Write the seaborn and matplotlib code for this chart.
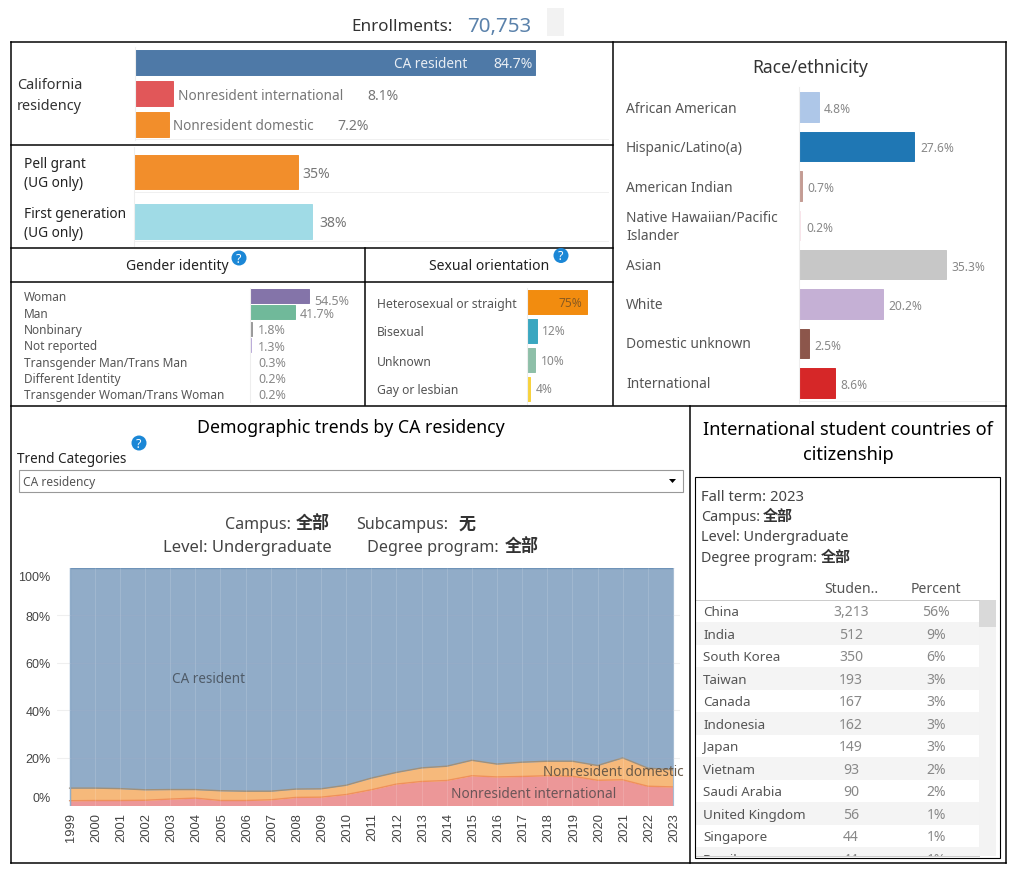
import matplotlib
matplotlib.use("Agg")
import matplotlib.pyplot as plt
from matplotlib.patches import Rectangle, Circle, Polygon
from matplotlib.transforms import ScaledTranslation
import pandas as pd
import seaborn as sns

residency_cats = ["CA resident", "Nonresident international", "Nonresident domestic"]
residency_vals = [84.7, 8.1, 7.2]
support_cats = ["Pell grant", "First generation"]
support_vals = [35, 38]
gender_cats = ["Woman", "Man", "Nonbinary", "Not reported", "Transgender Man/Trans Man",
               "Different Identity", "Transgender Woman/Trans Woman"]
gender_vals = [54.5, 41.7, 1.8, 1.3, 0.3, 0.2, 0.2]
orient_cats = ["Heterosexual or straight", "Bisexual", "Unknown", "Gay or lesbian"]
orient_vals = [75, 12, 10, 4]
race_cats = ["African American", "Hispanic/Latino(a)", "American Indian",
             "Native Hawaiian/Pacific\nIslander", "Asian", "White", "Domestic unknown", "International"]
race_vals = [4.8, 27.6, 0.7, 0.2, 35.3, 20.2, 2.5, 8.6]
years = list(range(1999, 2024))
intl_share = [2.0, 2.1, 2.1, 2.2, 2.7, 3.1, 2.1, 2.1, 2.4, 3.4, 3.5, 4.6, 6.6, 9.0, 10.1,
              10.5, 12.5, 12.0, 12.2, 12.5, 12.3, 10.6, 10.8, 8.1, 7.8]
dom_share = [5.3, 5.2, 5.0, 4.4, 4.0, 3.6, 4.1, 3.9, 3.6, 3.5, 3.5, 3.9, 4.9, 4.9, 5.7,
             6.0, 6.5, 5.4, 6.0, 6.1, 6.3, 6.2, 9.2, 7.6, 7.2]
countries = ["China", "India", "South Korea", "Taiwan", "Canada", "Indonesia", "Japan", "Vietnam",
             "Saudi Arabia", "United Kingdom", "Singapore", "Brazil"]
students = ["3,213", "512", "350", "193", "167", "162", "149", "93", "90", "56", "44", "44"]
percents = ["56%", "9%", "6%", "3%", "3%", "3%", "3%", "2%", "2%", "1%", "1%", "1%"]

sns.set_theme(style="white")
FONT = ["Noto Sans", "Noto Sans CJK SC", "DejaVu Sans"]
plt.rcParams["font.family"] = FONT
W, H = 1010, 870
fig = plt.figure(figsize=(W / 100, H / 100), dpi=100, facecolor="white")


def px_ax(l, t, r, b, **kw):
    a = fig.add_axes([l / W, 1 - b / H, (r - l) / W, (b - t) / H], **kw)
    a.patch.set_alpha(0)
    return a


ov = px_ax(0, 0, W, H, zorder=5)
ov.set_xlim(0, W)
ov.set_ylim(H - 1, -1)
ov.axis("off")


def T(x, y, s, px=14, color="#333333", ha="left", va="center", ax=ov, **kw):
    return ax.text(x, y + 0.6, s, fontsize=px * 0.72, color=color, ha=ha, va=va, **kw)


def L(x0, y0, x1, y1, color="black", lw=1.5, **kw):
    ov.plot([x0, x1], [y0, y1], color=color, lw=lw * 0.72, solid_capstyle="projecting", **kw)


def bars(l, t, r, b, cats, vals, colors, px_per, width):
    a = px_ax(l - 1, t + 1, r - 1, b + 1)
    df = pd.DataFrame({"cat": cats, "val": vals})
    sns.barplot(data=df, y="cat", x="val", hue="cat", palette=dict(zip(cats, colors)),
                legend=False, width=width, ax=a, saturation=1, linewidth=0)
    for p in a.patches:
        p.set_edgecolor(p.get_facecolor())
        p.set_linewidth(0.7)
    a.set_xlim(0, (r - l) / px_per)
    a.set_ylim(len(cats) - 0.5, -0.5)
    a.set_xlabel("")
    a.set_ylabel("")
    a.set_xticks([])
    a.set_yticks([])
    sns.despine(ax=a, top=True, right=True, bottom=True, left=False)
    a.spines["left"].set_color("#eeeeee")
    a.spines["left"].set_linewidth(0.8)
    return a


# Header
T(351, 25, "Enrollments:", 17, "#333333")
T(467, 25.5, "70,753", 20.5, "#5b82ab", weight="bold")
ov.add_patch(Rectangle((547, 8), 17, 28, fc="#f2f2f2", ec="none"))

# Frames
L(11, 42, 1006, 42)
L(11, 863, 1006, 863)
L(11, 42, 11, 863)
L(1006, 42, 1006, 863)
L(613, 42, 613, 405)
L(11, 145, 613, 145)
L(11, 248, 613, 248)
L(11, 282, 613, 282)
L(365, 248, 365, 405)
L(11, 405.5, 1006, 405.5)
L(690, 405.5, 690, 863)
ov.add_patch(Rectangle((695, 477), 305, 381, fc="none", ec="black", lw=0.8, zorder=6))

# Residency
bars(136, 47, 608, 140, residency_cats, residency_vals, ["#4e79a7", "#e15759", "#f28e2b"], 4.723, 0.83)
L(136, 139, 608, 139, "#f0f0f0", 1)
T(17, 84, "California", 14.5)
T(17, 105, "residency", 14.5)
T(394, 63, residency_cats[0], 13.6, "#e8edf3")
T(533, 63, "84.7%", 14, "#e8edf3", ha="right")
T(178, 95, residency_cats[1], 13.6, "#777777")
T(367, 95, "8.1%", 14, "#777777")
T(173, 125, residency_cats[2], 13.5, "#777777")
T(337, 125, "7.2%", 14, "#777777")

# Pell / first generation
bars(135, 147.25, 608, 246.25, support_cats, support_vals, ["#f28e2b", "#a0dbe6"], 4.68, 0.7)
L(135, 192, 608, 192, "#f0f0f0", 1)
L(135, 241, 608, 241, "#f0f0f0", 1)
T(24, 163, "Pell grant", 13.7, "#222222")
T(24, 182, "(UG only)", 13.7, "#222222")
T(24, 213, "First generation", 13.7, "#222222")
T(24, 232, "(UG only)", 13.7, "#222222")
T(302, 173, "35%", 14, "#777777")
T(319, 222, "38%", 14, "#777777")

# Gender identity
T(177, 265, "Gender identity", 14, "#222222", ha="center")
bars(251, 288, 360, 402, gender_cats, gender_vals,
     ["#8474a9", "#70b99a", "#999999", "#b9a9d9", "#1f7a99", "#a8dccc", "#e5ae38"], 1.08, 0.86)
gy = [296, 313, 329, 345, 362, 378, 394]
gvx = [314, 300, 258, 258, 258, 258, 258]
gvy = [300, 313, 329, 346, 362, 378, 394]
for c, v, y, x, vy in zip(gender_cats, gender_vals, gy, gvx, gvy):
    T(24, y, c, 11.9, "#555555")
    T(x, vy, f"{v}%", 12.5, "#888888")

# Sexual orientation
T(489, 265, "Sexual orientation", 14, "#222222", ha="center")
bars(528, 287.5, 600, 403.5, orient_cats, orient_vals, ["#f28c0f", "#3aa7c0", "#8ebfa8", "#f7d23c"], 0.8, 0.83)
oy = [303, 331, 361, 389]
ovx = [582, 542, 541, 536]
ovy = [302, 330, 360, 388]
for c, v, y, x, vy in zip(orient_cats, orient_vals, oy, ovx, ovy):
    T(377, y, c, 12.2, "#555555")
    T(x, vy, f"{v}%", 12, "#8a5a20" if v == 75 else "#888888", ha="right" if v == 75 else "left")

# Race / ethnicity
T(810, 66, "Race/ethnicity", 17.5, "#333333", ha="center")
bars(800, 87.4, 1000, 402.6, race_cats, race_vals,
     ["#aec7e8", "#1f77b4", "#c49c94", "#f9e4ea", "#c7c7c7", "#c5b0d5", "#8c564b", "#d62728"], 4.16, 0.75)
L(800, 401, 1000, 401, "#f0f0f0", 1)
rcy = [108, 147, 187, 226, 265, 304, 343, 383]
rvy = [107.5, 147, 187, 226.5, 265.5, 305, 344.5, 384]
rvx = [824, 920, 807, 806, 951, 888, 814, 840]
for c, v, y, x, vy in zip(race_cats, race_vals, rcy, rvx, rvy):
    T(626, y, c, 13.8, "#555555", linespacing=1.2)
    T(x, vy, f"{v}%", 12, "#888888")

# Help icons
for cx, cy in [(239, 258), (561, 255.5), (139, 443)]:
    ov.add_patch(Circle((cx, cy), 7.5, fc="#1b87d6", ec="none", zorder=7))
    T(cx, cy - 0.5, "?", 12.5, "white", ha="center", weight="bold", zorder=8)

# Trends
T(351, 426, "Demographic trends by CA residency", 17.7, "black", ha="center")
T(17, 458, "Trend Categories", 13.5, "#222222")
ov.add_patch(Rectangle((18.5, 469.5), 664, 22, fc="white", ec="#999999", lw=0.8))
T(23, 481, "CA residency", 12, "#555555")
ov.add_patch(Polygon([(669, 479), (676, 479), (672.5, 483)], fc="black", ec="none"))
T(225, 523, "Campus:", 16, "#444444")
T(296, 523, "全部", 17, "#333333", weight="bold")
T(356, 523, "Subcampus:", 16, "#444444")
T(459, 523, "无", 17, "#333333", weight="bold")
T(163, 546, "Level: Undergraduate", 16.6, "#444444")
T(367, 546, "Degree program:", 16.2, "#444444")
T(505, 546, "全部", 17, "#333333", weight="bold")

PX_YEAR = (673 - 69.5) / 24
ar = px_ax(57, 568.5, 680, 806.5)
stack_low = intl_share
stack_mid = [a + b for a, b in zip(intl_share, dom_share)]
stack_top = [100.0 for _ in years]
ar.fill_between(years, 0, stack_low, color="#e15759", alpha=0.62, lw=0)
ar.fill_between(years, stack_low, stack_mid, color="#f28e2b", alpha=0.62, lw=0)
ar.fill_between(years, stack_mid, stack_top, color="#4e79a7", alpha=0.62, lw=0)
lines = pd.DataFrame({"year": years * 3,
                      "v": stack_low + stack_mid + stack_top,
                      "s": ["a"] * 25 + ["b"] * 25 + ["c"] * 25})
sns.lineplot(data=lines, x="year", y="v", hue="s", legend=False, ax=ar, lw=1.0,
             palette={"a": "#f0905a", "b": "#a0907a", "c": "#6f93b8"}, errorbar=None)
ar.axvline(1999, color="#7fa0c2", lw=1)
ar.axvline(2023, color="#9ab3cd", lw=0.8)
ar.set_xlim(1999 - 12.5 / PX_YEAR, 2023 + 7 / PX_YEAR)
ar.set_ylim(0, 100)
ar.set_xlabel("")
ar.set_ylabel("")
ar.set_xticks(years)
ar.set_xticklabels([str(y) for y in years], rotation=90, fontsize=9.3, family="Liberation Sans", color="#444444")
ar.set_yticks([0, 20, 40, 60, 80, 100])
ar.set_yticklabels(["0%", "20%", "40%", "60%", "80%", "100%"], fontsize=9, family="Liberation Sans", color="#444444")
ar.tick_params(axis="both", length=0, pad=4.5)
for y in [20, 40, 60, 80]:
    ar.axhline(y, color="#eeeeee", lw=0.8, zorder=0.5)
    ar.axhline(y, color="white", lw=0.6, alpha=0.1, zorder=3)
for y in years:
    ar.axvline(y, color="white", lw=0.7, alpha=0.14, zorder=3)
for s in ar.spines.values():
    s.set_visible(False)
labs = ar.get_yticklabels()
labs[0].set_transform(labs[0].get_transform() + ScaledTranslation(0, 8.5 / 100, fig.dpi_scale_trans))
labs[5].set_transform(labs[5].get_transform() + ScaledTranslation(0, -8 / 100, fig.dpi_scale_trans))
for t in ar.get_xticklabels():
    t.set_transform(t.get_transform() + ScaledTranslation(1.5 / 100, 0, fig.dpi_scale_trans))
T(172, 678, "CA resident", 13.5, "#4f5b68")
T(451, 793, "Nonresident international", 13.6, "#6a5558")
T(543, 771, "Nonresident domestic", 13.5, "#6a5a48")

# International panel
T(848, 428, "International student countries of", 18.3, "black", ha="center")
T(848, 453, "citizenship", 18.3, "black", ha="center")
T(701, 495.5, "Fall term: 2023", 14.8, "#444444")
T(701, 516, "Campus:", 14.4, "#444444")
T(763, 516, "全部", 15, "#333333", weight="bold")
T(701, 536, "Level: Undergraduate", 14.5, "#444444")
T(701, 557, "Degree program:", 14.2, "#444444")
T(821, 557, "全部", 15, "#333333", weight="bold")
T(851, 588, "Studen..", 14, "#555555", ha="center")
T(936, 588, "Percent", 14, "#555555", ha="center")

tb = px_ax(696, 601, 999, 857, zorder=4)
tb.set_xlim(696, 999)
tb.set_ylim(856, 600)
tb.axis("off")
for i, (c, st, p) in enumerate(zip(countries, students, percents)):
    cy = 611 + 22.5 * i
    if i % 2:
        tb.add_patch(Rectangle((696, cy - 11.25), 283, 22.5, fc="#f4f4f4", ec="none"))
    T(703, cy, c, 13.4, "#555555", ax=tb, clip_on=True)
    T(851, cy, st, 14, "#888888", ha="center", ax=tb, clip_on=True)
    T(936, cy, p, 14, "#888888", ha="center", ax=tb, clip_on=True)
tb.add_patch(Rectangle((979, 600), 17, 256, fc="#f3f3f3", ec="none"))
tb.add_patch(Rectangle((979, 600), 17, 27, fc="#d9d9d9", ec="none"))
L(696, 600, 809, 600, "#cccccc", 1)
L(810, 600, 979, 600, "#cccccc", 1)
L(696, 855.5, 979, 855.5, "#cccccc", 1)

fig.savefig("out.png", dpi=100)
